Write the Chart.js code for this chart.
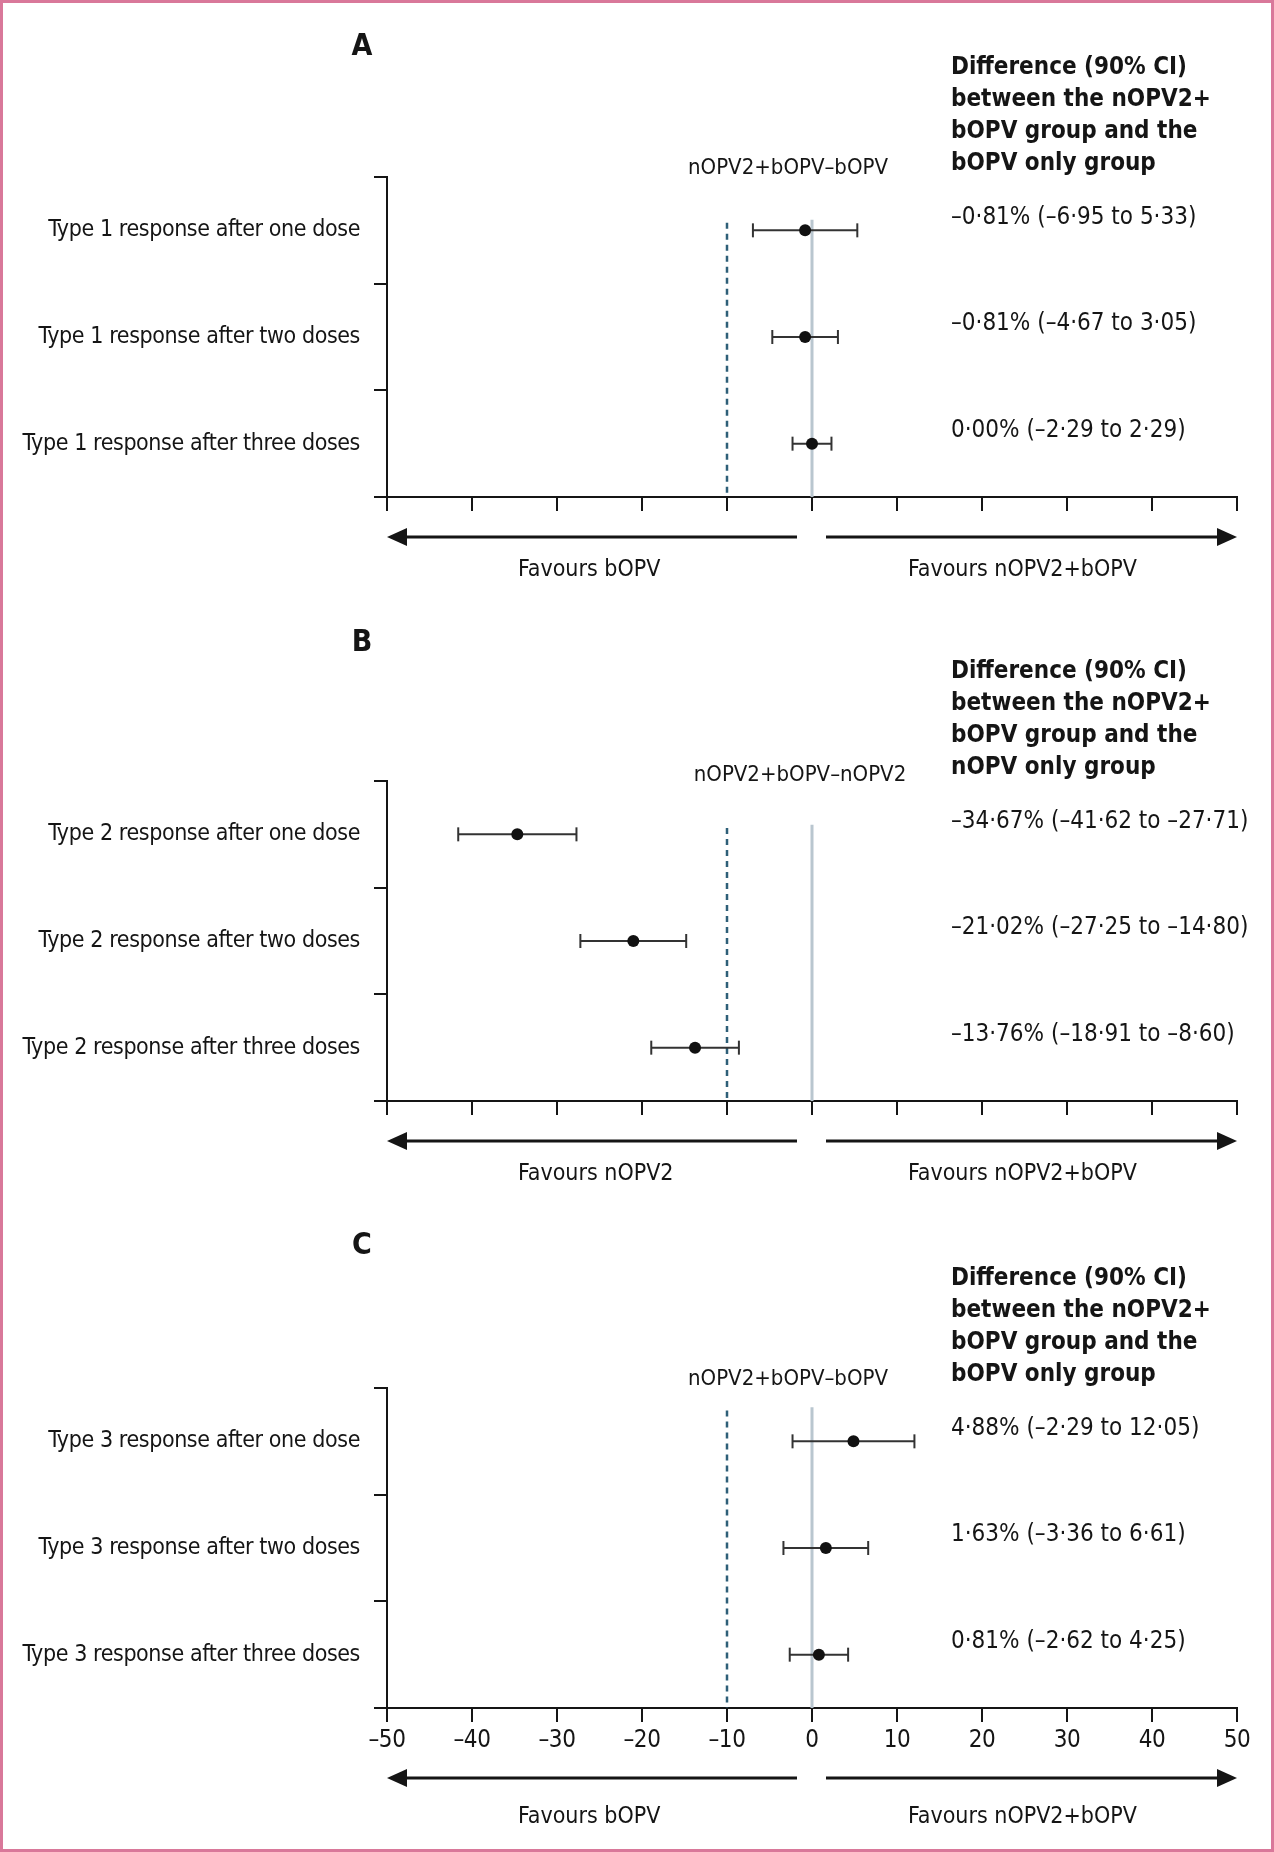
<!DOCTYPE html>
<html><head><meta charset="utf-8">
<script src="https://cdn.jsdelivr.net/npm/chart.js@4.4.1/dist/chart.umd.min.js"></script>
<style>
html,body{margin:0;padding:0;background:#fff;}
#page{position:relative;width:1274px;height:1852px;overflow:hidden;background:#fff;}
#frame{position:absolute;left:0;top:0;width:1274px;height:1852px;box-sizing:border-box;border:3px solid #d9789a;pointer-events:none;}
.panel{position:absolute;left:0;width:1274px;}
</style></head><body>
<div id="page">
  <div class="panel" style="top:0;height:605px"><canvas id="cA"></canvas></div>
  <div class="panel" style="top:605px;height:605px"><canvas id="cB"></canvas></div>
  <div class="panel" style="top:1210px;height:642px"><canvas id="cC"></canvas></div>
  <div id="frame"></div>
</div>
<script>
// ---------- data ----------
const catsA = ["Type 1 response after one dose", "Type 1 response after two doses", "Type 1 response after three doses"];
const estA = [-0.81, -0.81, 0.00];
const loA  = [-6.95, -4.67, -2.29];
const hiA  = [5.33, 3.05, 2.29];

const catsB = ["Type 2 response after one dose", "Type 2 response after two doses", "Type 2 response after three doses"];
const estB = [-34.67, -21.02, -13.76];
const loB  = [-41.62, -27.25, -18.91];
const hiB  = [-27.71, -14.80, -8.60];

const catsC = ["Type 3 response after one dose", "Type 3 response after two doses", "Type 3 response after three doses"];
const estC = [4.88, 1.63, 0.81];
const loC  = [-2.29, -3.36, -2.62];
const hiC  = [12.05, 6.61, 4.25];

const xTickValues = [-50, -40, -30, -20, -10, 0, 10, 20, 30, 40, 50];
const nonInferiorityMargin = -10;
const zeroReference = 0;

const headerA = ["Difference (90% CI)", "between the nOPV2+", "bOPV group and the", "bOPV only group"];
const headerB = ["Difference (90% CI)", "between the nOPV2+", "bOPV group and the", "nOPV only group"];
const headerC = ["Difference (90% CI)", "between the nOPV2+", "bOPV group and the", "bOPV only group"];
const compareA = "nOPV2+bOPV\u2013bOPV";
const compareB = "nOPV2+bOPV\u2013nOPV2";
const compareC = "nOPV2+bOPV\u2013bOPV";
const favoursA = ["Favours bOPV", "Favours nOPV2+bOPV"];
const favoursB = ["Favours nOPV2", "Favours nOPV2+bOPV"];
const favoursC = ["Favours bOPV", "Favours nOPV2+bOPV"];

// ---------- style ----------
const FONT = '"Liberation Sans Narrow", "Arial Narrow", "DejaVu Sans Condensed", "Open Sans", sans-serif';
const TEXT = '#151515';

function fmt(v) {
  const s = Math.abs(v).toFixed(2).replace('.', '\u00B7');
  return (v < 0 ? '\u2013' : '') + s;
}
function note(e, l, h) { return fmt(e) + '% (' + fmt(l) + ' to ' + fmt(h) + ')'; }
function fmtTick(v) { return v < 0 ? '\u2013' + Math.abs(v) : String(v); }

const textPlugin = {
  id: 'forestText',
  beforeDraw(chart) {
    chart.ctx.letterSpacing = '-0.4px';
  },
  afterDraw(chart, args, o) {
    const ctx = chart.ctx, xs = chart.scales.x, ys = chart.scales.y;
    const T = chart.chartArea.top, B = chart.chartArea.bottom;
    ctx.save();
    ctx.letterSpacing = '0px';
    ctx.fillStyle = TEXT;
    ctx.textBaseline = 'middle';
    ctx.font = 'bold 30px ' + FONT;
    ctx.textAlign = 'center';
    ctx.fillText(o.letter, 362, T + o.letterDy);
    ctx.font = 'bold 24px ' + FONT;
    ctx.textAlign = 'left';
    o.header.forEach((line, i) => ctx.fillText(line, 951, T - 109 + i * 32));
    ctx.font = '22px ' + FONT;
    ctx.textAlign = 'center';
    ctx.fillText(o.compare, o.compareX, T + o.compareDy);
    ctx.font = '24px ' + FONT;
    ctx.textAlign = 'left';
    o.notes.forEach((s, i) => ctx.fillText(s, 951, ys.getPixelForValue(i + 0.5) - 13));
    // direction arrows
    const yA = B + o.arrowGap;
    const x0 = xs.getPixelForValue(-50), x1 = xs.getPixelForValue(50), xz = xs.getPixelForValue(0);
    ctx.strokeStyle = '#151515'; ctx.lineWidth = 3;
    ctx.beginPath(); ctx.moveTo(x0 + 14, yA); ctx.lineTo(xz - 15, yA); ctx.stroke();
    ctx.beginPath(); ctx.moveTo(xz + 14, yA); ctx.lineTo(x1 - 14, yA); ctx.stroke();
    ctx.beginPath(); ctx.moveTo(x0, yA); ctx.lineTo(x0 + 20, yA - 9); ctx.lineTo(x0 + 20, yA + 9); ctx.closePath(); ctx.fill();
    ctx.beginPath(); ctx.moveTo(x1, yA); ctx.lineTo(x1 - 20, yA - 9); ctx.lineTo(x1 - 20, yA + 9); ctx.closePath(); ctx.fill();
    ctx.font = '23px ' + FONT;
    ctx.textAlign = 'left';
    ctx.fillText(o.favours[0], 518, yA + o.favGap);
    ctx.fillText(o.favours[1], 908, yA + o.favGap);
    ctx.restore();
  }
};

function makePanel(id, p) {
  const rows = p.est.map((v, i) => i + 0.5);
  const ds = [];
  ds.push({ label: 'estimate', data: p.est.map((v, i) => ({ x: v, y: rows[i] })),
    pointRadius: 6, pointBackgroundColor: '#111', pointBorderColor: '#111', pointBorderWidth: 0, showLine: false, order: 0 });
  p.lo.forEach((l, i) => ds.push({ label: 'ci' + i, data: [{ x: l, y: rows[i] }, { x: p.hi[i], y: rows[i] }],
    showLine: true, borderColor: '#333', borderWidth: 2, pointStyle: 'line', rotation: 90, pointRadius: 7,
    pointBorderWidth: 2, pointBorderColor: '#333', order: 1 }));
  ds.push({ label: 'margin', data: [{ x: nonInferiorityMargin, y: p.dashTop }, { x: nonInferiorityMargin, y: 3 }],
    showLine: true, borderColor: '#2e5f78', borderWidth: 2.5, borderDash: [6, 5], pointRadius: 0, order: 2 });
  ds.push({ label: 'zero', data: [{ x: zeroReference, y: p.zeroTop }, { x: zeroReference, y: 3 }],
    showLine: true, borderColor: '#b9c6cf', borderWidth: 3, pointRadius: 0, order: 3 });

  new Chart(document.getElementById(id), {
    type: 'scatter',
    data: { datasets: ds },
    plugins: [textPlugin],
    options: {
      responsive: true, maintainAspectRatio: false, animation: false,
      layout: { padding: { top: p.padTop, bottom: p.padBottom, left: 0, right: 37 } },
      plugins: {
        legend: { display: false }, tooltip: { enabled: false },
        forestText: { letter: p.letter, letterDy: p.letterDy, header: p.header, compare: p.compare,
          compareX: p.compareX, compareDy: p.compareDy,
          notes: p.est.map((e, i) => note(e, p.lo[i], p.hi[i])), favours: p.favours,
          arrowGap: p.arrowGap, favGap: p.favGap }
      },
      scales: {
        x: {
          type: 'linear', position: 'bottom', min: -50, max: 50,
          afterBuildTicks: s => { s.ticks = xTickValues.map(v => ({ value: v })); },
          ticks: { display: p.showX, callback: v => fmtTick(v), font: { family: FONT, size: 24 }, color: TEXT, padding: 4, maxRotation: 0, autoSkip: false },
          grid: { drawOnChartArea: false, drawTicks: true, tickLength: 14, color: '#151515', lineWidth: 2 },
          border: { display: true, color: '#151515', width: 2 },
          afterFit: s => { s.height = p.xAxisH; }
        },
        y: {
          type: 'linear', position: 'left', min: 0, max: 3, reverse: true, weight: 0,
          afterBuildTicks: s => { s.ticks = [0, 1, 2, 3].map(v => ({ value: v })); },
          ticks: { display: false },
          grid: { drawOnChartArea: false, drawTicks: true, tickLength: 13, color: '#151515', lineWidth: 2 },
          border: { display: true, color: '#151515', width: 2 },
          afterFit: s => { s.width = 13; }
        },
        yl: {
          type: 'linear', position: 'left', min: 0, max: 3, reverse: true, weight: 1,
          afterBuildTicks: s => { s.ticks = rows.map(v => ({ value: v })); },
          ticks: { callback: (v, i) => p.cats[i], font: { family: FONT, size: 23 }, color: TEXT, padding: 14, autoSkip: false },
          grid: { display: false, drawTicks: false },
          border: { display: false },
          afterFit: s => { s.width = 374; }
        }
      }
    }
  });
}

makePanel('cA', { cats: catsA, est: estA, lo: loA, hi: hiA, letter: 'A', letterDy: -130, header: headerA,
  compare: compareA, compareX: 788, compareDy: -9, favours: favoursA,
  padTop: 177, padBottom: 94, xAxisH: 14, showX: false, arrowGap: 40, favGap: 33, dashTop: 0.43, zeroTop: 0.40 });
makePanel('cB', { cats: catsB, est: estB, lo: loB, hi: hiB, letter: 'B', letterDy: -138, header: headerB,
  compare: compareB, compareX: 800, compareDy: -6, favours: favoursB,
  padTop: 176, padBottom: 95, xAxisH: 14, showX: false, arrowGap: 40, favGap: 33, dashTop: 0.44, zeroTop: 0.41 });
makePanel('cC', { cats: catsC, est: estC, lo: loC, hi: hiC, letter: 'C', letterDy: -142, header: headerC,
  compare: compareC, compareX: 788, compareDy: -9, favours: favoursC,
  padTop: 178, padBottom: 94, xAxisH: 50, showX: true, arrowGap: 70, favGap: 39, dashTop: 0.21, zeroTop: 0.18 });
</script>
</body></html>
